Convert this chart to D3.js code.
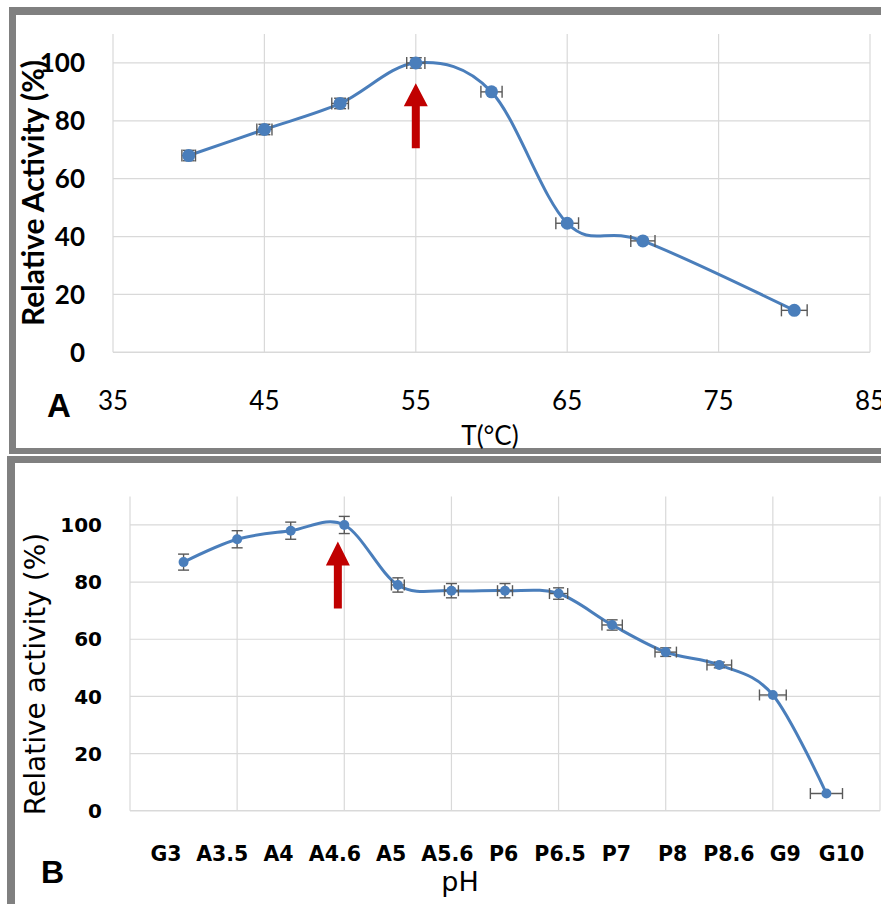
<!DOCTYPE html>
<html>
<head>
<meta charset="utf-8">
<script src="https://cdn.jsdelivr.net/npm/d3@7"></script>
<style>
  html, body { margin: 0; padding: 0; background: #fff; }
  svg { display: block; }
</style>
</head>
<body>
<svg id="fig" width="881" height="904"></svg>
<script>
// ---- Panel A: effect of temperature ----
const tempC        = [40, 45, 50, 55, 60, 65, 70, 80];
const tempActivity = [68, 77, 86, 100, 90, 44.6, 38.5, 14.5];
const tempErrX     = [0.45, 0.5, 0.55, 0.6, 0.7, 0.75, 0.8, 0.85];
const tempErrY     = [1.8, 1.8, 1.8, 1.8, 0, 0, 0, 0];
const tempTicksX   = [35, 45, 55, 65, 75, 85];
const activityTicks = [0, 20, 40, 60, 80, 100];
const tempOptimum  = { x: 55, from: 70.5, to: 93 };

// ---- Panel B: effect of pH (buffer + pH) ----
const phLabels   = ["G3", "A3.5", "A4", "A4.6", "A5", "A5.6", "P6", "P6.5", "P7", "P8", "P8.6", "G9", "G10"];
const phIndex    = [1, 2, 3, 4, 5, 6, 7, 8, 9, 10, 11, 12, 13];
const phActivity = [87, 95, 98, 100, 79, 77, 77, 76, 65, 55.5, 51, 40.5, 6];
const phErrY     = [2.8, 3, 3, 3, 2.5, 2.5, 2.5, 2, 1.8, 1.5, 1, 0, 0];
const phErrX     = [0, 0, 0, 0, 0.12, 0.13, 0.14, 0.17, 0.19, 0.2, 0.23, 0.25, 0.3];
const phGridX    = [0, 2, 4, 6, 8, 10, 12, 14];
const phOptimum  = { x: 3.88, from: 70.8, to: 94.2 };

const svg = d3.select("#fig");
const LINE = "#4a7ebb", GRID = "#d9d9d9", ERR = "#595959", ARROW = "#c00000", FRAME = "#808080";

// panel frames
svg.append("rect").attr("x", 9).attr("y", 7).attr("width", 881).attr("height", 8).attr("fill", FRAME);
svg.append("rect").attr("x", 9).attr("y", 7).attr("width", 7).attr("height", 447).attr("fill", FRAME);
svg.append("rect").attr("x", 9).attr("y", 448).attr("width", 881).attr("height", 6).attr("fill", FRAME);
svg.append("rect").attr("x", 7).attr("y", 456).attr("width", 881).attr("height", 7).attr("fill", FRAME);
svg.append("rect").attr("x", 7).attr("y", 456).attr("width", 8).attr("height", 460).attr("fill", FRAME);

function drawPanel(cfg) {
  const g = svg.append("g");
  const x = cfg.x, y = cfg.y;
  const [x0, x1] = x.range();
  const [y0, y1] = y.range();

  // gridlines
  g.selectAll(".hg").data(cfg.yTicks).join("line")
    .attr("x1", x0).attr("x2", x1)
    .attr("y1", d => y(d)).attr("y2", d => y(d))
    .attr("stroke", GRID).attr("stroke-width", d => d === 0 ? 1.6 : 1.2);
  g.selectAll(".vg").data(cfg.xGrid).join("line")
    .attr("x1", d => x(d)).attr("x2", d => x(d))
    .attr("y1", y0).attr("y2", y1)
    .attr("stroke", GRID).attr("stroke-width", 1.2);

  // y tick labels
  g.selectAll(".yt").data(cfg.yTicks).join("text")
    .attr("x", cfg.yLabelX).attr("y", d => y(d))
    .attr("dy", "0.36em").attr("text-anchor", "end")
    .style("font", cfg.tickFont).attr("fill", "#000")
    .text(d => d);

  // smoothed curve
  const pts = cfg.xs.map((v, i) => [v, cfg.ys[i]]);
  g.append("path").datum(pts)
    .attr("fill", "none").attr("stroke", LINE).attr("stroke-width", 3)
    .attr("d", d3.line().x(d => x(d[0])).y(d => y(d[1])).curve(d3.curveCardinal.tension(0)));

  // error bars
  const cap = cfg.cap;
  const eb = g.append("g").attr("stroke", ERR).attr("stroke-width", 1.4).attr("fill", "none");
  pts.forEach((p, i) => {
    const cx = x(p[0]), cy = y(p[1]);
    const ey = cfg.errY[i], ex = cfg.errX[i];
    if (ey > 0) {
      const ya = y(p[1] + ey), yb = y(p[1] - ey);
      eb.append("line").attr("x1", cx).attr("x2", cx).attr("y1", ya).attr("y2", yb);
      eb.append("line").attr("x1", cx - cap).attr("x2", cx + cap).attr("y1", ya).attr("y2", ya);
      eb.append("line").attr("x1", cx - cap).attr("x2", cx + cap).attr("y1", yb).attr("y2", yb);
    }
    if (ex > 0) {
      const xa = x(p[0] - ex), xb = x(p[0] + ex);
      eb.append("line").attr("x1", xa).attr("x2", xb).attr("y1", cy).attr("y2", cy);
      eb.append("line").attr("x1", xa).attr("x2", xa).attr("y1", cy - cap).attr("y2", cy + cap);
      eb.append("line").attr("x1", xb).attr("x2", xb).attr("y1", cy - cap).attr("y2", cy + cap);
    }
  });

  // markers
  g.selectAll(".mk").data(pts).join("circle")
    .attr("cx", d => x(d[0])).attr("cy", d => y(d[1]))
    .attr("r", cfg.markerR).attr("fill", LINE);

  // optimum arrow
  const a = cfg.arrow;
  const ax = x(a.x), tip = y(a.to), base = y(a.from);
  const headH = cfg.arrowHead, headW = 12, shaftW = 4;
  g.append("path")
    .attr("fill", ARROW)
    .attr("d", `M${ax},${tip} L${ax + headW},${tip + headH} L${ax + shaftW},${tip + headH} L${ax + shaftW},${base} L${ax - shaftW},${base} L${ax - shaftW},${tip + headH} L${ax - headW},${tip + headH} Z`);
  return g;
}

// Panel A
const xA = d3.scaleLinear().domain([35, 85]).range([113, 870]);
const yA = d3.scaleLinear().domain([0, 110]).range([352.3, 34]);
const gA = drawPanel({
  x: xA, y: yA, xs: tempC, ys: tempActivity, errX: tempErrX, errY: tempErrY,
  yTicks: activityTicks, xGrid: tempTicksX, yLabelX: 85,
  tickFont: "bold 26px Lato, 'Open Sans', sans-serif",
  cap: 6, markerR: 6.5, arrow: tempOptimum, arrowHead: 23
});
gA.selectAll(".xt").data(tempTicksX).join("text")
  .attr("x", d => xA(d)).attr("y", 410).attr("text-anchor", "middle")
  .style("font", "26px Lato, 'Open Sans', sans-serif").attr("fill", "#000")
  .text(d => d);
gA.append("text").attr("x", 490).attr("y", 445).attr("text-anchor", "middle")
  .style("font", "26px Lato, 'Open Sans', sans-serif").text("T(°C)");
gA.append("text")
  .attr("transform", "translate(44,193) rotate(-90)").attr("text-anchor", "middle")
  .style("font", "bold 30px Lato, 'Open Sans', sans-serif").text("Relative Activity (%)");
gA.append("text").attr("x", 47).attr("y", 417)
  .style("font", "bold 33px 'Liberation Sans', Arial, sans-serif").text("A");

// Panel B
const xB = d3.scaleLinear().domain([0, 14]).range([130, 880]);
const yB = d3.scaleLinear().domain([0, 110]).range([810.7, 496.4]);
const gB = drawPanel({
  x: xB, y: yB, xs: phIndex, ys: phActivity, errX: phErrX, errY: phErrY,
  yTicks: activityTicks, xGrid: phGridX, yLabelX: 102,
  tickFont: "bold 20px 'DejaVu Sans', Verdana, sans-serif",
  cap: 5.5, markerR: 5, arrow: phOptimum, arrowHead: 24
});
// category labels sit in their own evenly spaced band below the plot
const xLab = d3.scalePoint().domain(phLabels).range([166, 841.5]);
gB.selectAll(".xt").data(phLabels).join("text")
  .attr("x", d => xLab(d)).attr("y", 861).attr("text-anchor", "middle")
  .style("font", "bold 20.5px 'DejaVu Sans', Verdana, sans-serif").attr("fill", "#000")
  .text(d => d);
gB.append("text").attr("x", 460).attr("y", 891).attr("text-anchor", "middle")
  .style("font", "27px 'DejaVu Sans', Verdana, sans-serif").text("pH");
gB.append("text")
  .attr("transform", "translate(45,674) rotate(-90)").attr("text-anchor", "middle")
  .style("font", "28px 'DejaVu Sans', Verdana, sans-serif").text("Relative activity (%)");
gB.append("text").attr("x", 41).attr("y", 883)
  .style("font", "bold 32px 'Liberation Sans', Arial, sans-serif").text("B");
</script>
</body>
</html>
